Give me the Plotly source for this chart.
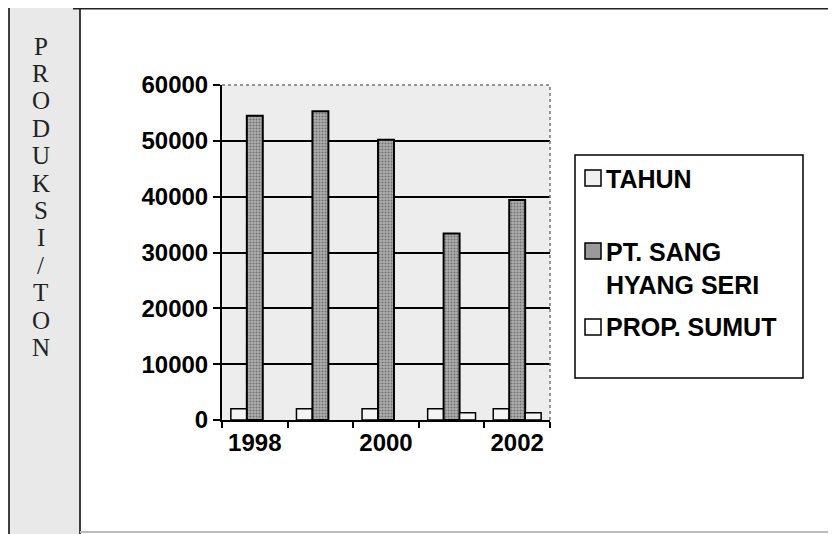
import plotly.graph_objects as go

# ---- data ----
years = ["1998", "1999", "2000", "2001", "2002"]
tahun = [1998, 1999, 2000, 2001, 2002]
pt_sang_hyang_seri = [54500, 55300, 50200, 33400, 39400]
prop_sumut = [None, None, None, 1300, 1300]
year_labels = ["1998", "", "2000", "", "2002"]
y_ticks = [0, 10000, 20000, 30000, 40000, 50000, 60000]
side_letters = ["P", "R", "O", "D", "U", "K", "S", "I", "/", "T", "O", "N"]

OFF = 8  # page body margin
W, H = 836 - OFF, 534 - OFF
# plot area in screen pixels
PX0, PX1, PY0, PY1 = 222, 550, 85, 420


def px(x):
    return (x - PX0) / (PX1 - PX0)


def py(y):
    return (PY1 - y) / (PY1 - PY0)


fig = go.Figure()
fig.add_trace(go.Bar(
    name="TAHUN", x=years, y=tahun,
    marker=dict(color="#f4f4f4", line=dict(color="black", width=1.5)),
    showlegend=False,
))
fig.add_trace(go.Bar(
    name="PT. SANG HYANG SERI", x=years, y=pt_sang_hyang_seri,
    marker=dict(color="#a3a3a3", line=dict(color="black", width=2),
                pattern=dict(shape=".", fgcolor="#333333", bgcolor="#b0b0b0",
                             size=3, solidity=0.4)),
    showlegend=False,
))
fig.add_trace(go.Bar(
    name="PROP. SUMUT", x=years, y=prop_sumut,
    marker=dict(color="#f4f4f4", line=dict(color="black", width=1.5)),
    showlegend=False,
))

shapes = []
annotations = []

# left side panel
shapes.append(dict(type="rect", xref="paper", yref="paper",
                   x0=px(9), x1=px(80), y0=py(5), y1=py(540),
                   fillcolor="#e9e9e9", line=dict(color="black", width=1.5),
                   layer="below"))
# frame lines
shapes.append(dict(type="line", xref="paper", yref="paper",
                   x0=px(73), x1=px(840), y0=py(8.5), y1=py(8.5),
                   line=dict(color="#222", width=2)))
shapes.append(dict(type="line", xref="paper", yref="paper",
                   x0=px(80), x1=px(840), y0=py(532), y1=py(532),
                   line=dict(color="#bbbbbb", width=2)))
# dotted top/right border of the plot area
shapes.append(dict(type="line", xref="paper", yref="paper",
                   x0=0, x1=1, y0=1, y1=1,
                   line=dict(color="#777", width=1.5, dash="dot")))
shapes.append(dict(type="line", xref="paper", yref="paper",
                   x0=1, x1=1, y0=0, y1=1,
                   line=dict(color="#777", width=1.5, dash="dot")))

for i, ch in enumerate(side_letters):
    annotations.append(dict(xref="paper", yref="paper", x=px(41), y=py(46 + i * 27.4),
                            text=ch, showarrow=False, xanchor="center", yanchor="middle",
                            font=dict(family="Liberation Serif", size=25, color="#222")))

# legend box
shapes.append(dict(type="rect", xref="paper", yref="paper",
                   x0=px(575), x1=px(803), y0=py(155), y1=py(378),
                   fillcolor="white", line=dict(color="black", width=1.5)))
legend_items = [
    ("TAHUN", 179, "#f0f0f0", 178),
    ("PT. SANG<br>HYANG SERI", 268, "#9a9a9a", 251),
    ("PROP. SUMUT", 327, "#ffffff", 327),
]
for text, ty, color, sy in legend_items:
    shapes.append(dict(type="rect", xref="paper", yref="paper",
                       x0=px(585), x1=px(601), y0=py(sy - 8), y1=py(sy + 8),
                       fillcolor=color, line=dict(color="black", width=1.5)))
    annotations.append(dict(xref="paper", yref="paper", x=px(604), y=py(ty),
                            text=f"<b>{text.replace('<br>', '</b><br><b>')}</b>",
                            showarrow=False, xanchor="left", yanchor="middle",
                            align="left",
                            font=dict(family="Liberation Sans", size=25, color="black")))

fig.update_layout(
    width=W, height=H,
    margin=dict(l=PX0 - OFF, r=836 - PX1, t=PY0 - OFF, b=534 - PY1, pad=0),
    paper_bgcolor="white",
    plot_bgcolor="#ededed",
    barmode="group", bargap=0.27, bargroupgap=0,
    font=dict(family="Liberation Sans", color="black"),
    shapes=shapes, annotations=annotations,
    xaxis=dict(type="category", tickmode="array", tickvals=years,
               ticktext=[f"<b>{t}</b>" if t else "" for t in year_labels],
               tickson="boundaries", ticks="outside", ticklen=6, tickwidth=1.5,
               tickcolor="black", showline=True, linecolor="black", linewidth=2,
               showgrid=False,
               tickfont=dict(family="Liberation Sans", size=24, color="black"),
               zeroline=False),
    yaxis=dict(range=[0, 60000], tickmode="array", tickvals=y_ticks,
               ticktext=[f"<b>{v}</b>" for v in y_ticks],
               ticks="outside", ticklen=7, tickwidth=1.5, tickcolor="black",
               showline=True, linecolor="black", linewidth=2,
               showgrid=True, gridcolor="black", gridwidth=1.8, zeroline=False,
               tickfont=dict(family="Liberation Sans", size=24, color="black")),
)

fig.write_html("out.html")
